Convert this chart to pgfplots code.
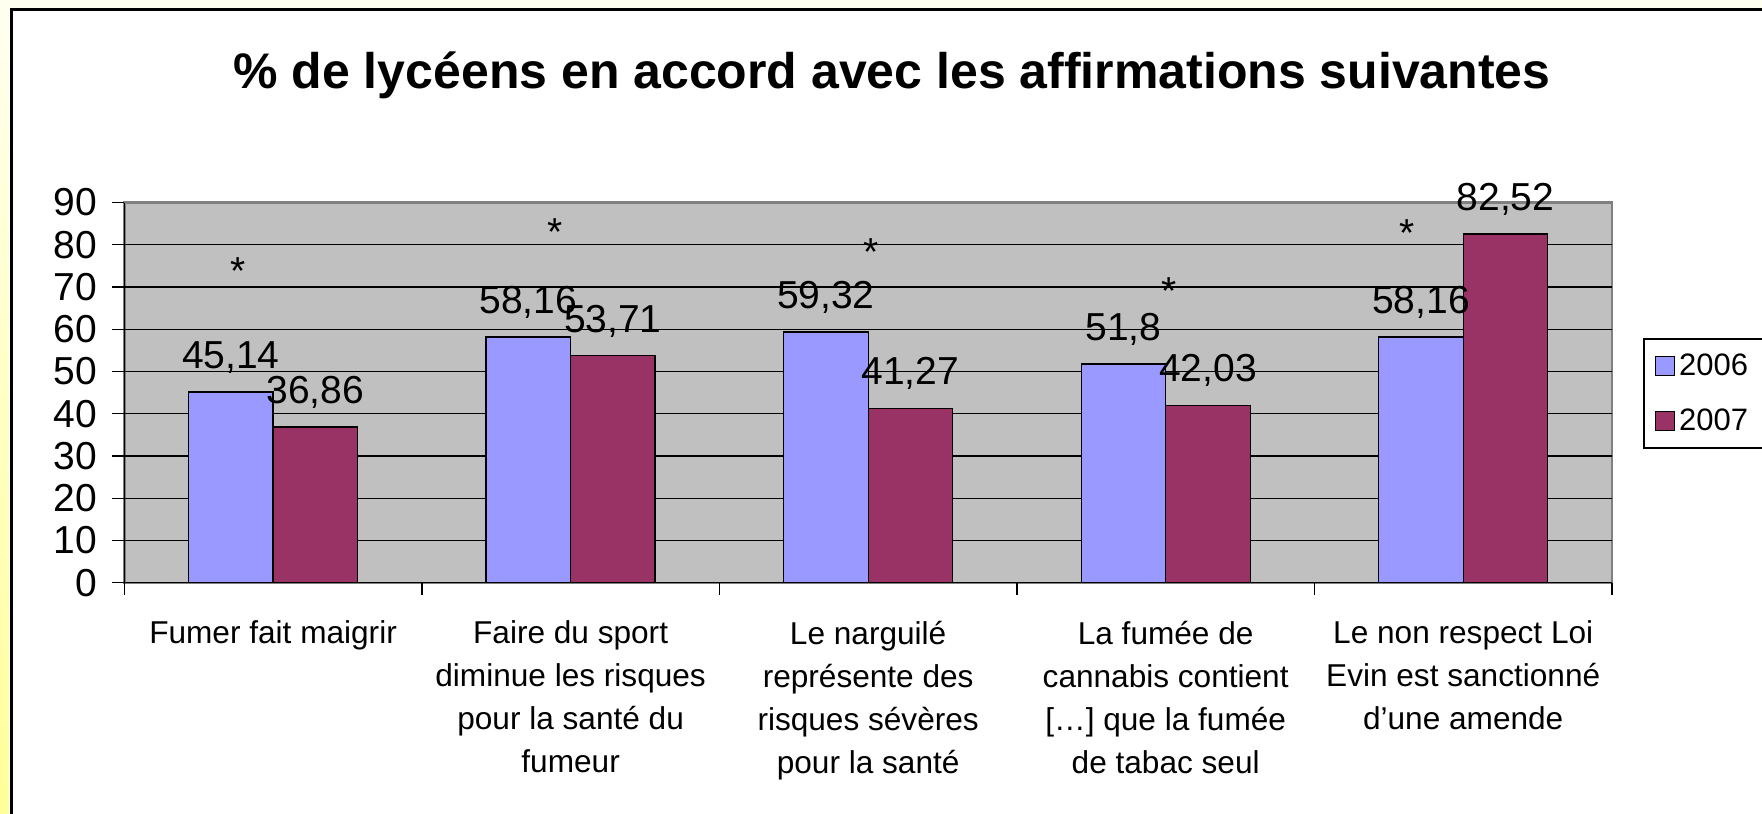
\documentclass[border=0pt]{standalone}
\usepackage{pgfplots}
\pgfplotsset{compat=1.18}
\usepackage{fontspec}
\setmainfont{Liberation Sans}
\newfontfamily\catfont{Liberation Sans}
\definecolor{bgray}{HTML}{C0C0C0}
\definecolor{bordergray}{HTML}{808080}
\definecolor{c06}{HTML}{9999FF}
\definecolor{c07}{HTML}{993366}
\definecolor{cream}{HTML}{FFFFF0}
\definecolor{yel}{HTML}{FFFF99}
\begin{document}
\begin{tikzpicture}
\useasboundingbox (0,0) rectangle (881pt,407pt);
\fill[white] (0,0) rectangle (881pt,407pt);
\fill[cream] (0,402.5pt) rectangle (881pt,407pt);
\shade[top color=cream, bottom color=yel] (0,0) rectangle (4.6pt,407pt);
\draw[line width=1.5pt] (5.6pt,0) -- (5.6pt,402.3pt) -- (881pt,402.3pt);
\node[font=\bfseries\fontsize{25}{30}\selectfont, anchor=base, inner sep=0pt] at (446pt,362.5pt) {\% de lycéens en accord avec les affirmations suivantes};
\begin{axis}[
  at={(62.15pt,115.65pt)}, anchor=south west,
  scale only axis, width=743.85pt, height=190.1pt,
  ybar, bar width=0.284,
  xmin=-0.5, xmax=4.5, ymin=0, ymax=90,
  axis x line*=bottom, axis y line*=left,
  axis line style={black, line width=0.7pt},
  axis background/.style={fill=bgray, draw=bordergray, line width=1.2pt},
  ytick={0,10,20,30,40,50,60,70,80},
  extra y ticks={90}, extra y tick style={grid=none},
  ymajorgrids, grid style={black, line width=0.65pt},
  tick align=outside, major tick length=6pt,
  tick style={black, line width=0.7pt},
  /pgf/number format/assume math mode=true,
  yticklabel style={font=\fontsize{19.5}{23}\selectfont, xshift=-4pt},
  xtick={-0.5,0.5,1.5,2.5,3.5,4.5}, xticklabels={},
  extra x ticks={0,1,2,3,4},
  extra x tick labels={Fumer fait maigrir,
    {Faire du sport\\diminue les risques\\pour la santé du\\fumeur},
    {Le narguilé\\représente des\\risques sévères\\pour la santé},
    {La fumée de\\cannabis contient\\{[…]} que la fumée\\de tabac seul},
    {Le non respect Loi\\Evin est sanctionné\\d’une amende}},
  extra x tick style={major tick length=0pt, grid=none},
  xticklabel style={font=\catfont\fontsize{15.8}{21.5}\selectfont, align=center, yshift=-15.5pt},
  legend style={at={(1.0208,0.6436)}, anchor=north west, draw=black, line width=0.8pt,
    font=\fontsize{15.5}{18}\selectfont, inner xsep=5.5pt, inner ysep=5.5pt,
    row sep=11pt, nodes={inner sep=2pt}, /tikz/every even column/.append style={column sep=4.5pt}},
  legend cell align=left,
  legend image code/.code={\draw[#1, line width=0.7pt] (0pt,-4.75pt) rectangle (9.5pt,4.75pt);},
]
\addplot[fill=c06, draw=black, line width=0.65pt, bar shift=-0.142]
  coordinates {(0,45.14) (1,58.16) (2,59.32) (3,51.8) (4,58.16)};
\addlegendentry{2006}
\addplot[fill=c07, draw=black, line width=0.65pt, bar shift=0.142]
  coordinates {(0,36.86) (1,53.71) (2,41.27) (3,42.03) (4,82.52)};
\addlegendentry{2007}
% value labels (drawn after both series so they sit on top)
\addplot[draw=none, fill=none, bar shift=-0.142, forget plot,
  point meta=explicit symbolic, nodes near coords,
  nodes near coords style={font=\fontsize{19.5}{23}\selectfont, inner sep=0pt, yshift=9pt}]
  coordinates {(0,45.14) [45,14] (1,58.16) [58,16] (2,59.32) [59,32] (3,51.8) [51,8] (4,58.16) [58,16]};
\addplot[draw=none, fill=none, bar shift=0.142, forget plot,
  point meta=explicit symbolic, nodes near coords,
  nodes near coords style={font=\fontsize{19.5}{23}\selectfont, inner sep=0pt, yshift=9pt}]
  coordinates {(0,36.86) [36,86] (1,53.71) [53,71] (2,41.27) [41,27] (3,42.03) [42,03] (4,82.52) [82,52]};
% significance asterisks
\addplot[draw=none, fill=none, bar shift=0, forget plot,
  point meta=explicit symbolic, nodes near coords,
  nodes near coords style={font=\fontsize{19.5}{23}\selectfont, inner sep=0pt}]
  coordinates {(-0.118,70.5) [*] (0.948,79.7) [*] (2.011,75.0) [*] (3.013,65.7) [*] (3.810,79.5) [*]};
\end{axis}
\end{tikzpicture}
\end{document}
